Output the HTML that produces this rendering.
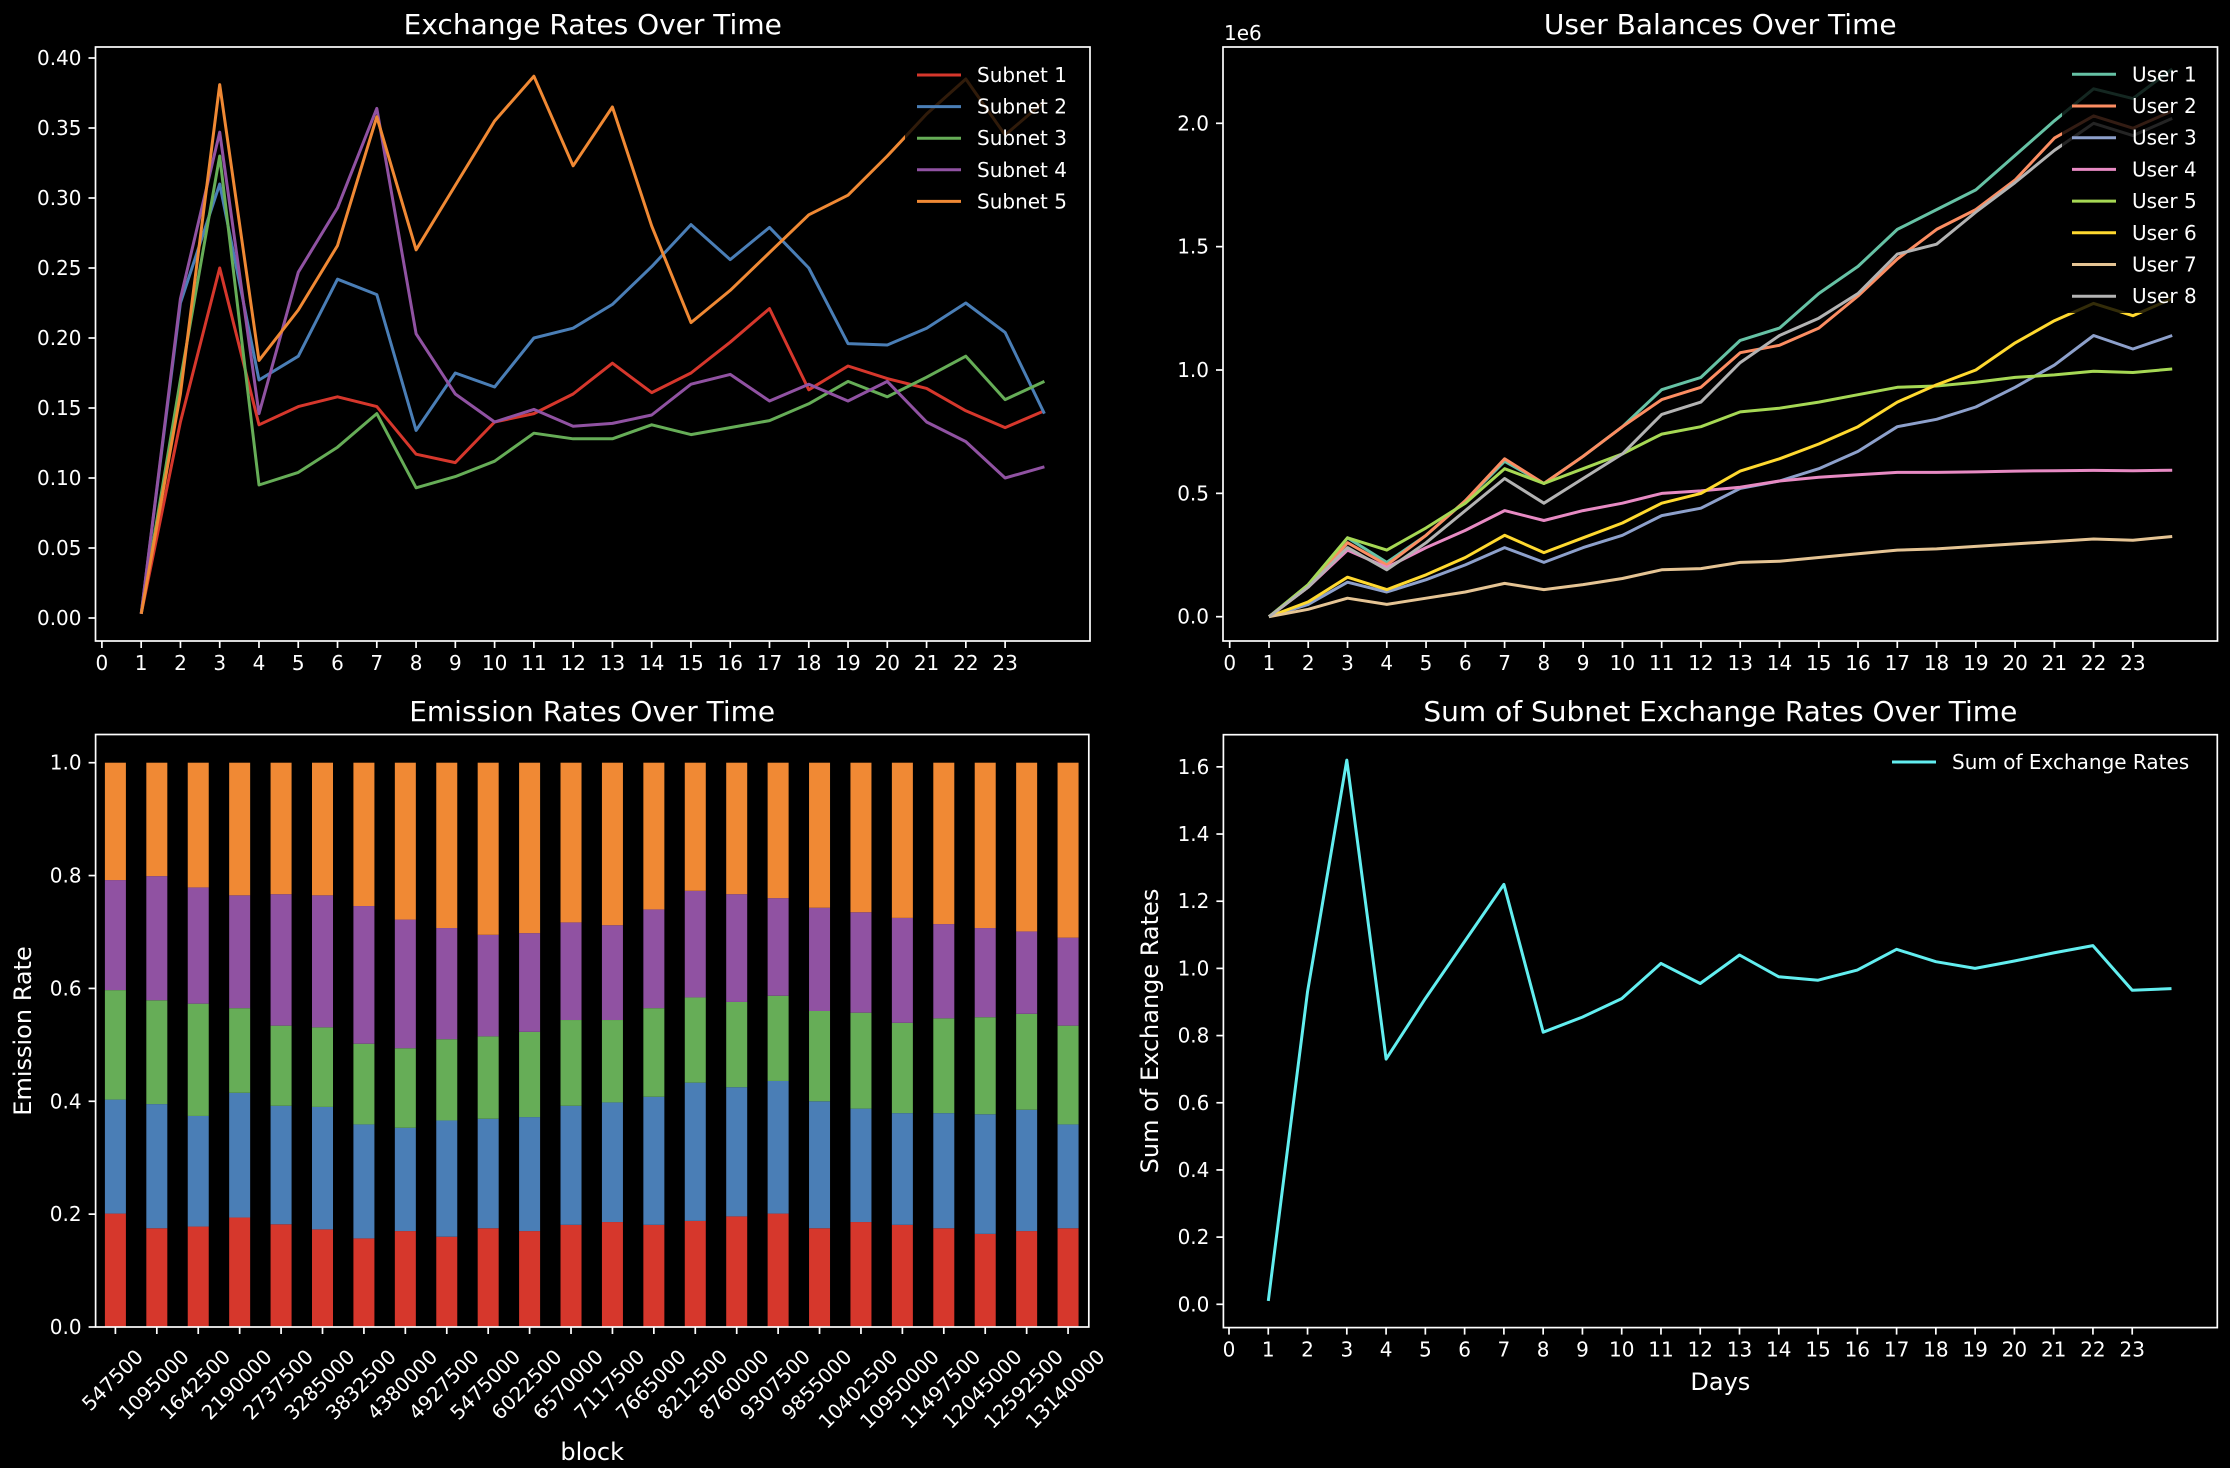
<!DOCTYPE html>
<html><head><meta charset="utf-8"><style>
html,body{margin:0;padding:0;background:#000;}
svg{display:block;}
text{font-family:"DejaVu Sans","Liberation Sans",sans-serif;fill:#fff;}
</style></head>
<body>
<svg id="fig" xmlns="http://www.w3.org/2000/svg" width="2230" height="1468" viewBox="0 0 2230 1468">
<rect x="0" y="0" width="2230" height="1468" fill="#000"/>
</svg>
<script>
// ---------- data ----------
const days = [1,2,3,4,5,6,7,8,9,10,11,12,13,14,15,16,17,18,19,20,21,22,23,24];
const dayTickLabels = ["0","1","2","3","4","5","6","7","8","9","10","11","12","13","14","15","16","17","18","19","20","21","22","23"];

const subnetNames = ["Subnet 1","Subnet 2","Subnet 3","Subnet 4","Subnet 5"];
const subnet1Rates = [0.003,0.14,0.25,0.138,0.151,0.158,0.151,0.117,0.111,0.140,0.146,0.160,0.182,0.161,0.175,0.197,0.221,0.163,0.180,0.171,0.164,0.148,0.136,0.148];
const subnet2Rates = [0.003,0.225,0.31,0.17,0.187,0.242,0.231,0.134,0.175,0.165,0.200,0.207,0.224,0.251,0.281,0.256,0.279,0.250,0.196,0.195,0.207,0.225,0.204,0.146];
const subnet3Rates = [0.003,0.17,0.33,0.095,0.104,0.122,0.146,0.093,0.101,0.112,0.132,0.128,0.128,0.138,0.131,0.136,0.141,0.153,0.169,0.158,0.172,0.187,0.156,0.169];
const subnet4Rates = [0.003,0.228,0.347,0.146,0.247,0.293,0.364,0.203,0.160,0.140,0.149,0.137,0.139,0.145,0.167,0.174,0.155,0.167,0.155,0.169,0.140,0.126,0.100,0.108];
const subnet5Rates = [0.003,0.16,0.381,0.184,0.22,0.266,0.358,0.263,0.309,0.355,0.387,0.323,0.365,0.28,0.211,0.234,0.261,0.288,0.302,0.330,0.36,0.385,0.345,0.369];
const rateTicks = [0,0.05,0.10,0.15,0.20,0.25,0.30,0.35,0.40];
const rateTickLabels = ["0.00","0.05","0.10","0.15","0.20","0.25","0.30","0.35","0.40"];

const userNames = ["User 1","User 2","User 3","User 4","User 5","User 6","User 7","User 8"];
const user1Bal = [0,0.13,0.32,0.22,0.33,0.47,0.63,0.54,0.65,0.77,0.92,0.97,1.12,1.17,1.31,1.42,1.57,1.65,1.73,1.87,2.01,2.14,2.10,2.22];
const user2Bal = [0,0.12,0.30,0.21,0.33,0.47,0.64,0.54,0.65,0.77,0.88,0.93,1.07,1.10,1.17,1.30,1.45,1.57,1.65,1.77,1.94,2.03,1.98,2.05];
const user3Bal = [0,0.05,0.14,0.10,0.15,0.21,0.28,0.22,0.28,0.33,0.41,0.44,0.52,0.55,0.60,0.67,0.77,0.80,0.85,0.93,1.02,1.14,1.085,1.14];
const user4Bal = [0,0.12,0.27,0.20,0.28,0.35,0.43,0.39,0.43,0.46,0.50,0.51,0.525,0.55,0.565,0.575,0.585,0.585,0.587,0.590,0.592,0.593,0.592,0.594];
const user5Bal = [0,0.13,0.32,0.27,0.36,0.46,0.60,0.54,0.60,0.66,0.74,0.77,0.83,0.845,0.87,0.90,0.93,0.935,0.95,0.97,0.98,0.995,0.99,1.004];
const user6Bal = [0,0.06,0.16,0.11,0.17,0.24,0.33,0.26,0.32,0.38,0.46,0.50,0.59,0.64,0.70,0.77,0.87,0.94,1.00,1.11,1.20,1.27,1.22,1.29];
const user7Bal = [0,0.03,0.075,0.05,0.075,0.10,0.135,0.11,0.13,0.155,0.19,0.195,0.22,0.225,0.24,0.255,0.27,0.275,0.285,0.295,0.305,0.315,0.31,0.325];
const user8Bal = [0,0.12,0.28,0.19,0.30,0.43,0.56,0.46,0.56,0.66,0.82,0.87,1.03,1.14,1.21,1.31,1.47,1.51,1.64,1.76,1.89,2.00,1.95,2.02];
const balanceTicks = [0,0.5,1.0,1.5,2.0];
const balanceTickLabels = ["0.0","0.5","1.0","1.5","2.0"];

const blockLabels = ["547500","1095000","1642500","2190000","2737500","3285000","3832500","4380000","4927500","5475000","6022500","6570000","7117500","7665000","8212500","8760000","9307500","9855000","10402500","10950000","11497500","12045000","12592500","13140000"];
const emission1 = [0.201,0.175,0.178,0.194,0.182,0.173,0.157,0.170,0.160,0.175,0.170,0.181,0.186,0.181,0.188,0.196,0.201,0.175,0.186,0.181,0.175,0.165,0.170,0.175];
const emission2 = [0.202,0.220,0.196,0.221,0.210,0.217,0.202,0.183,0.206,0.194,0.202,0.211,0.212,0.227,0.245,0.229,0.235,0.225,0.201,0.198,0.204,0.212,0.215,0.184];
const emission3 = [0.194,0.184,0.199,0.150,0.142,0.141,0.143,0.141,0.144,0.146,0.151,0.152,0.146,0.157,0.151,0.151,0.151,0.160,0.170,0.160,0.168,0.172,0.170,0.175];
const emission4 = [0.195,0.220,0.206,0.200,0.233,0.234,0.244,0.228,0.197,0.180,0.175,0.173,0.168,0.175,0.189,0.191,0.173,0.183,0.178,0.186,0.167,0.158,0.146,0.156];
const emission5 = [0.208,0.201,0.221,0.235,0.233,0.235,0.254,0.278,0.293,0.305,0.302,0.283,0.288,0.260,0.227,0.233,0.240,0.257,0.265,0.275,0.286,0.293,0.299,0.310];
const emissionTicks = [0,0.2,0.4,0.6,0.8,1.0];
const emissionTickLabels = ["0.0","0.2","0.4","0.6","0.8","1.0"];

const sumRates = [0.01,0.93,1.62,0.73,0.91,1.08,1.25,0.81,0.855,0.91,1.015,0.955,1.04,0.975,0.965,0.995,1.057,1.02,1.0,1.022,1.046,1.068,0.935,0.94];
const sumTicks = [0,0.2,0.4,0.6,0.8,1.0,1.2,1.4,1.6];
const sumTickLabels = ["0.0","0.2","0.4","0.6","0.8","1.0","1.2","1.4","1.6"];

// ---------- helpers ----------
const NS = "http://www.w3.org/2000/svg";
const fig = document.getElementById("fig");
function mk(tag, attrs, parent) {
  const e = document.createElementNS(NS, tag);
  for (const k in attrs) e.setAttribute(k, attrs[k]);
  (parent || fig).appendChild(e);
  return e;
}
function txt(str, attrs, parent) {
  const t = mk("text", attrs, parent);
  t.textContent = str;
  return t;
}
const subnetColors = ["#d6372c","#4a7eb6","#66ad57","#9052a2","#f08934"];
const userColors = ["#66c2a5","#fc8d62","#8da0cb","#e78ac3","#a6d854","#ffd92f","#e5c494","#b3b3b3"];
const TITLE_FS = 28;

function panelFrame(p, name) {
  const g = mk("g", {});
  
  
  return g;
}
function spines(p, g) {
  const r = mk("rect", {x:p.l, y:p.t, width:p.r-p.l, height:p.b-p.t, fill:"none", stroke:"#fff", "stroke-width":1.7}, g);
  
  
}
function yAxis(p, g, ticks, labels, yf) {
  const ax = mk("g", {}, g);
  
  
  ticks.forEach((v, i) => {
    const y = yf(v);
    mk("line", {x1:p.l-7, x2:p.l, y1:y, y2:y, stroke:"#fff", "stroke-width":1.7}, ax);
    const t = txt(labels[i], {x:p.l-14, y:y+7, "text-anchor":"end", "font-size":20}, ax);
    
    
  });
}
function xDayAxis(p, g, xf) {
  const ax = mk("g", {}, g);
  
  
  dayTickLabels.forEach((lab, i) => {
    const x = xf(i);
    mk("line", {x1:x, x2:x, y1:p.b, y2:p.b+7, stroke:"#fff", "stroke-width":1.7}, ax);
    const t = txt(lab, {x:x, y:p.b+29, "text-anchor":"middle", "font-size":20}, ax);
    
    
  });
}
function line(xs, ys, xf, yf, color, g, name) {
  const pts = xs.map((x, i) => xf(x).toFixed(1) + "," + yf(ys[i]).toFixed(1)).join(" ");
  const pl = mk("polyline", {points:pts, fill:"none", stroke:color, "stroke-width":3, "stroke-linejoin":"round"}, g);
  
  
}
function legend(g, names, colors, box, lx, tx, y0, dy, name) {
  const lg = mk("g", {}, g);
  
  
  mk("rect", {x:box[0], y:box[1], width:box[2], height:box[3], fill:"#000", "fill-opacity":0.8}, lg);
  names.forEach((n, i) => {
    const y = y0 + i*dy;
    const ln = mk("line", {x1:lx, x2:lx+44, y1:y, y2:y, stroke:colors[i], "stroke-width":3}, lg);
    
    
    const t = txt(n, {x:tx, y:y+7, "font-size":20}, lg);
    
    
  });
}

// ---------- panel 1: exchange rates ----------
const P1 = {l:95.5, r:1090, t:47, b:641};
const x1f = v => 101.9 + v*39.27;
const y1f = v => 618 - 1400*v;
const g1 = panelFrame(P1, "exchange-rates-chart");
const series1 = [subnet1Rates, subnet2Rates, subnet3Rates, subnet4Rates, subnet5Rates];
series1.forEach((s, i) => line(days, s, x1f, y1f, subnetColors[i], g1, "subnet-" + (i+1) + "-line"));
legend(g1, subnetNames, subnetColors, [905, 57, 178, 160], 917, 977, 75, 31.6, "exchange-rates-legend");
spines(P1, g1);
yAxis(P1, g1, rateTicks, rateTickLabels, y1f);
xDayAxis(P1, g1, x1f);
let tt = txt("Exchange Rates Over Time", {x:(P1.l+P1.r)/2, y:34, "text-anchor":"middle", "font-size":TITLE_FS}, g1);



// ---------- panel 2: user balances ----------
const P2 = {l:1223, r:2217.5, t:47, b:641};
const x2f = v => 1229.7 + v*39.27;
const y2f = v => 616.7 - 246.7*v;
const g2 = panelFrame(P2, "user-balances-chart");
const series2 = [user1Bal, user2Bal, user3Bal, user4Bal, user5Bal, user6Bal, user7Bal, user8Bal];
series2.forEach((s, i) => line(days, s, x2f, y2f, userColors[i], g2, "user-" + (i+1) + "-line"));
legend(g2, userNames, userColors, [2062, 57, 150, 256], 2072, 2132, 74.3, 31.7, "user-balances-legend");
spines(P2, g2);
yAxis(P2, g2, balanceTicks, balanceTickLabels, y2f);
xDayAxis(P2, g2, x2f);
tt = txt("1e6", {x:1224, y:40, "font-size":20}, g2);


tt = txt("User Balances Over Time", {x:(P2.l+P2.r)/2, y:34, "text-anchor":"middle", "font-size":TITLE_FS}, g2);



// ---------- panel 3: emission rates stacked bars ----------
const P3 = {l:95.6, r:1088.8, t:734.5, b:1327};
const x3f = i => 115.4 + i*41.42;
const y3f = v => 1327 - 564.3*v;
const g3 = panelFrame(P3, "emission-rates-chart");
const series3 = [emission1, emission2, emission3, emission4, emission5];
blockLabels.forEach((lab, i) => {
  let base = 0;
  series3.forEach((s, k) => {
    const top = base + s[i];
    const r = mk("rect", {x:x3f(i)-10.5, y:y3f(top), width:21, height:y3f(base)-y3f(top), fill:subnetColors[k]}, g3);
    
    
    base = top;
  });
});
spines(P3, g3);
yAxis(P3, g3, emissionTicks, emissionTickLabels, y3f);
const xa3 = mk("g", {}, g3);


blockLabels.forEach((lab, i) => {
  const x = x3f(i);
  mk("line", {x1:x, x2:x, y1:P3.b, y2:P3.b+7, stroke:"#fff", "stroke-width":1.7}, xa3);
  const w = lab.length * 12.7;
  const half = (w + 20) * 0.7071 / 2;
  const cx = x - 3, cy = 1346 + half;
  const t = txt(lab, {x:0, y:0, "text-anchor":"middle", "dominant-baseline":"central", "font-size":20, transform:"translate(" + cx.toFixed(1) + "," + cy.toFixed(1) + ") rotate(-45)"}, xa3);
  
  
});
tt = txt("Emission Rates Over Time", {x:(P3.l+P3.r)/2, y:721, "text-anchor":"middle", "font-size":TITLE_FS}, g3);


tt = txt("Emission Rate", {x:0, y:0, "text-anchor":"middle", "font-size":24, transform:"translate(31,1031) rotate(-90)"}, g3);


tt = txt("block", {x:(P3.l+P3.r)/2, y:1460, "text-anchor":"middle", "font-size":24}, g3);



// ---------- panel 4: sum of exchange rates ----------
const P4 = {l:1223.4, r:2217.3, t:734.7, b:1327.6};
const x4f = v => 1229 + v*39.27;
const y4f = v => 1304.3 - 335.9*v;
const g4 = panelFrame(P4, "sum-exchange-rates-chart");
line(days, sumRates, x4f, y4f, "#62eef0", g4, "sum-exchange-rates-line");
legend(g4, ["Sum of Exchange Rates"], ["#62eef0"], [1880, 745, 330, 34], 1892, 1952, 762, 32, "sum-legend");
spines(P4, g4);
yAxis(P4, g4, sumTicks, sumTickLabels, y4f);
xDayAxis(P4, g4, x4f);
tt = txt("Sum of Subnet Exchange Rates Over Time", {x:(P4.l+P4.r)/2, y:721, "text-anchor":"middle", "font-size":TITLE_FS}, g4);


tt = txt("Sum of Exchange Rates", {x:0, y:0, "text-anchor":"middle", "font-size":24, transform:"translate(1158,1031) rotate(-90)"}, g4);


tt = txt("Days", {x:(P4.l+P4.r)/2, y:1390, "text-anchor":"middle", "font-size":24}, g4);


</script>
</body></html>
